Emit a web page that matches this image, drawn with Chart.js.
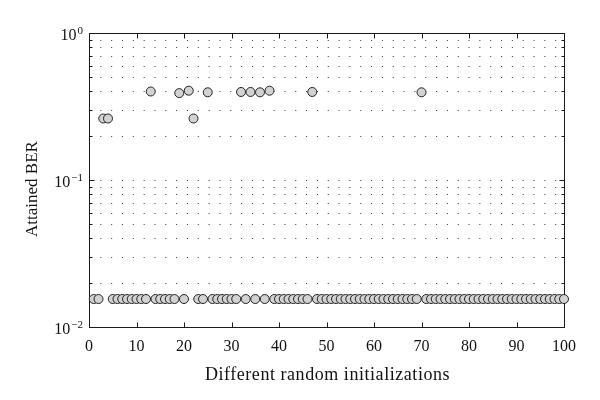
<!DOCTYPE html>
<html>
<head>
<meta charset="utf-8">
<script src="https://cdn.jsdelivr.net/npm/chart.js@4/dist/chart.umd.min.js"></script>
<style>
  html, body { margin: 0; padding: 0; background: #ffffff; }
  #wrap { width: 600px; height: 400px; }
</style>
</head>
<body>
<div id="wrap"><canvas id="c" width="600" height="400"></canvas></div>
<script>
// ---------- data ----------
const initializations = [
  1,2,3,4,5,6,7,8,9,10,
  11,12,13,14,15,16,17,18,19,20,
  21,22,23,24,25,26,27,28,29,30,
  31,32,33,34,35,36,37,38,39,40,
  41,42,43,44,45,46,47,48,49,50,
  51,52,53,54,55,56,57,58,59,60,
  61,62,63,64,65,66,67,68,69,70,
  71,72,73,74,75,76,77,78,79,80,
  81,82,83,84,85,86,87,88,89,90,
  91,92,93,94,95,96,97,98,99,100
];
const attainedBER = [
  0.0155,0.0155,0.262,0.262,0.0155,0.0155,0.0155,0.0155,0.0155,0.0155,
  0.0155,0.0155,0.400,0.0155,0.0155,0.0155,0.0155,0.0155,0.390,0.0155,
  0.405,0.262,0.0155,0.0155,0.395,0.0155,0.0155,0.0155,0.0155,0.0155,
  0.0155,0.397,0.0155,0.397,0.0155,0.395,0.0155,0.405,0.0155,0.0155,
  0.0155,0.0155,0.0155,0.0155,0.0155,0.0155,0.397,0.0155,0.0155,0.0155,
  0.0155,0.0155,0.0155,0.0155,0.0155,0.0155,0.0155,0.0155,0.0155,0.0155,
  0.0155,0.0155,0.0155,0.0155,0.0155,0.0155,0.0155,0.0155,0.0155,0.395,
  0.0155,0.0155,0.0155,0.0155,0.0155,0.0155,0.0155,0.0155,0.0155,0.0155,
  0.0155,0.0155,0.0155,0.0155,0.0155,0.0155,0.0155,0.0155,0.0155,0.0155,
  0.0155,0.0155,0.0155,0.0155,0.0155,0.0155,0.0155,0.0155,0.0155,0.0155
];
const xTickValues = [0,10,20,30,40,50,60,70,80,90,100];
const xTickLabels = ['0','10','20','30','40','50','60','70','80','90','100'];
const yMajorValues = [0.01, 0.1, 1];
const yTickExponents = ['\u22122', '\u22121', '0'];
const yMinorValues = [0.02,0.03,0.04,0.05,0.06,0.07,0.08,0.09,0.2,0.3,0.4,0.5,0.6,0.7,0.8,0.9];
const xTitle = 'Different random initializations';
const yTitle = 'Attained BER';

const points = initializations.map((x, i) => ({ x: x, y: attainedBER[i] }));

const SERIF = '"Liberation Serif", "DejaVu Serif", serif';

const matlabAxes = {
  id: 'matlabAxes',
  beforeDatasetsDraw(chart) {
    const ctx = chart.ctx;
    const a = chart.chartArea;
    const xs = chart.scales.x, ys = chart.scales.y;
    ctx.save();
    // dotted horizontal grid
    ctx.strokeStyle = '#3a3a3a';
    ctx.lineWidth = 1;
    ctx.setLineDash([1, 9.83]);
    const gridVals = yMinorValues.concat([0.1]);
    gridVals.forEach(v => {
      const py = Math.round(ys.getPixelForValue(v)) + 0.5;
      ctx.beginPath();
      ctx.moveTo(a.left + 0.5, py);
      ctx.lineTo(a.right, py);
      ctx.stroke();
    });
    ctx.setLineDash([]);
    // frame
    ctx.strokeStyle = '#1a1a1a';
    ctx.lineWidth = 1;
    const L = Math.round(a.left) + 0.5, R = Math.round(a.right) + 0.5;
    const T = Math.round(a.top) + 0.5, B = Math.round(a.bottom) + 0.5;
    ctx.strokeRect(L, T, R - L, B - T);
    // x ticks (inward, top & bottom)
    ctx.beginPath();
    xTickValues.forEach(v => {
      const px = Math.round(xs.getPixelForValue(v)) + 0.5;
      ctx.moveTo(px, B); ctx.lineTo(px, B - 5);
      ctx.moveTo(px, T); ctx.lineTo(px, T + 5);
    });
    // y major ticks
    yMajorValues.forEach(v => {
      const py = Math.round(ys.getPixelForValue(v)) + 0.5;
      ctx.moveTo(L, py); ctx.lineTo(L + 5, py);
      ctx.moveTo(R, py); ctx.lineTo(R - 5, py);
    });
    // y minor ticks
    yMinorValues.forEach(v => {
      const py = Math.round(ys.getPixelForValue(v)) + 0.5;
      ctx.moveTo(L, py); ctx.lineTo(L + 3, py);
      ctx.moveTo(R, py); ctx.lineTo(R - 3, py);
    });
    ctx.stroke();
    ctx.restore();
  },
  afterDraw(chart) {
    const ctx = chart.ctx;
    const a = chart.chartArea;
    const xs = chart.scales.x, ys = chart.scales.y;
    ctx.save();
    ctx.fillStyle = '#111111';
    // x tick labels
    ctx.font = '16px ' + SERIF;
    ctx.textAlign = 'center';
    ctx.textBaseline = 'alphabetic';
    xTickValues.forEach((v, i) => {
      ctx.fillText(xTickLabels[i], xs.getPixelForValue(v), 351);
    });
    // y tick labels 10^e
    yMajorValues.forEach((v, i) => {
      const py = ys.getPixelForValue(v);
      ctx.font = '11px ' + SERIF;
      const ew = ctx.measureText(yTickExponents[i]).width;
      const right = 83;
      ctx.textAlign = 'left';
      ctx.fillText(yTickExponents[i], right - ew, py + 0.5);
      ctx.font = '16px ' + SERIF;
      const bw = ctx.measureText('10').width;
      ctx.fillText('10', right - ew - bw - 1, py + 6.5);
    });
    // axis titles
    ctx.font = '18px ' + SERIF;
    ctx.textAlign = 'center';
    if ('letterSpacing' in ctx) ctx.letterSpacing = '0.55px';
    ctx.fillText(xTitle, (a.left + a.right) / 2 + 1, 379.5);
    if ('letterSpacing' in ctx) ctx.letterSpacing = '0px';
    ctx.font = '17px ' + SERIF;
    ctx.translate(37, 189);
    ctx.rotate(-Math.PI / 2);
    ctx.fillText(yTitle, 0, 0);
    ctx.restore();
  }
};

new Chart(document.getElementById('c'), {
  type: 'scatter',
  data: {
    datasets: [{
      data: points,
      pointRadius: 4.5,
      pointHoverRadius: 4.5,
      pointBackgroundColor: '#d2d2d2',
      pointBorderColor: '#222222',
      pointBorderWidth: 1,
      showLine: false,
      clip: false
    }]
  },
  options: {
    responsive: false,
    devicePixelRatio: 1,
    animation: false,
    events: [],
    layout: { padding: { top: 33, right: 36, left: 0, bottom: 0 } },
    plugins: { legend: { display: false }, tooltip: { enabled: false } },
    scales: {
      x: {
        type: 'linear', min: 0, max: 100,
        grid: { display: false },
        border: { display: false },
        ticks: { display: false },
        afterFit(scale) { scale.height = 73; }
      },
      y: {
        type: 'logarithmic', min: 0.01, max: 1,
        grid: { display: false },
        border: { display: false },
        ticks: { display: false },
        afterFit(scale) { scale.width = 89; }
      }
    }
  },
  plugins: [matlabAxes]
});
</script>
</body>
</html>
